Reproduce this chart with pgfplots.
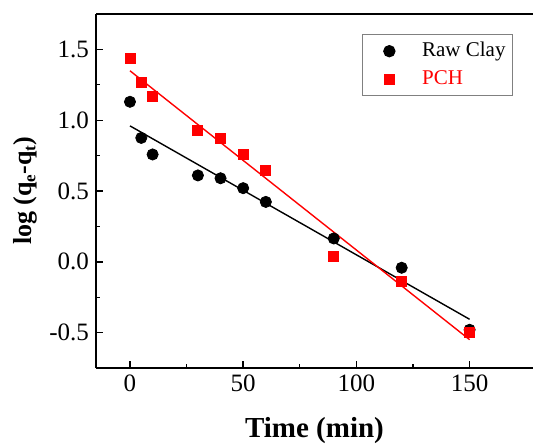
\documentclass[border=0pt]{standalone}
\usepackage{fontspec}
\setmainfont{Liberation Serif}
\usepackage{pgfplots}
\pgfplotsset{compat=1.18}
\newcommand{\sub}[1]{\raisebox{-0.3ex}{\fontsize{8.5}{9}\selectfont #1}}

\begin{document}
\begin{tikzpicture}
\useasboundingbox (-48pt,-38pt) rectangle (218.5pt,184pt);
\begin{axis}[
  at={(0,0)}, anchor=south west,
  scale only axis, width=218.5pt, height=177pt,
  xmin=-15, xmax=178, ymin=-0.75, ymax=1.75,
  axis x line=box, axis y line=left,
  axis line style={-, line width=0.8pt},
  xtick={0,50,100,150}, ytick={-0.5,0,0.5,1.0,1.5},
  minor xtick={25,75,125}, minor ytick={-0.25,0.25,0.75,1.25},
  tick align=inside,
  xtick pos=bottom, ytick pos=left,
  major tick length=3.5pt, minor tick length=2pt,
  every tick/.style={black, line width=0.7pt},
  /pgf/number format/assume math mode=true,
  /pgf/number format/fixed, /pgf/number format/fixed zerofill, /pgf/number format/precision=1,
  xticklabel style={/pgf/number format/precision=0, /pgf/number format/fixed zerofill=false},
  ticklabel style={font=\fontsize{12.5}{14}\selectfont},
  xlabel={\textbf{Time (min)}}, ylabel={\textbf{log (q\sub{e}-q\sub{t})}},
  xlabel style={font=\fontsize{14.5}{16}\selectfont, yshift=-6pt},
  ylabel style={font=\fontsize{13}{15}\selectfont, yshift=-1pt},
  legend style={at={(0.609,0.944)}, anchor=north west, draw=gray, line width=0.6pt,
    font=\fontsize{10.5}{13}\selectfont, row sep=1.5pt, inner xsep=2.5pt, inner ysep=2pt,
    nodes={inner xsep=1pt}},
  legend image code/.code={\path[draw=none] (0cm,0cm) -- (0.92cm,0cm);
    \draw[#1, only marks] plot coordinates {(0.38cm,0cm)};},
  legend cell align=left,
  clip=false,
]
\addplot[only marks, mark=*, mark size=2.8pt, black] coordinates {
  (0,1.13) (5,0.875) (10,0.758) (30,0.61) (40,0.59) (50,0.52) (60,0.423) (90,0.165) (120,-0.042) (150,-0.48)};
\addlegendentry{Raw Clay}
\addplot[only marks, mark=square*, mark size=2.5pt, red] coordinates {
  (0,1.436) (5,1.264) (10,1.165) (30,0.928) (40,0.868) (50,0.758) (60,0.647) (90,0.041) (120,-0.137) (150,-0.50)};
\addlegendentry{\textcolor{red}{PCH}}
\addplot[black, line width=0.7pt, forget plot] coordinates {(0,0.96) (150,-0.406)};
\addplot[red, line width=0.7pt, forget plot] coordinates {(0,1.349) (150,-0.55)};
\end{axis}
\end{tikzpicture}
\end{document}
